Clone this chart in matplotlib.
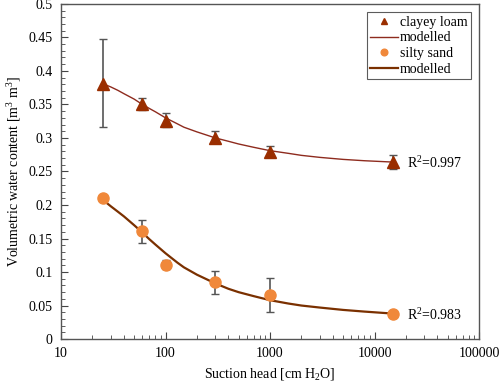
import matplotlib.pyplot as plt
from matplotlib.ticker import MultipleLocator, LogLocator, NullFormatter, FixedLocator, FixedFormatter

plt.rcParams['font.family'] = 'Liberation Serif'
plt.rcParams['mathtext.fontset'] = 'custom'
plt.rcParams['mathtext.rm'] = 'Liberation Serif'
plt.rcParams['mathtext.it'] = 'Liberation Serif:italic'

# measured points
suction = [25, 60, 100, 300, 1000, 15000]
clay_theta = [0.381, 0.350, 0.326, 0.300, 0.279, 0.264]
clay_lo = [0.317, 0.341, 0.316, 0.294, 0.271, 0.254]
clay_hi = [0.448, 0.360, 0.337, 0.310, 0.288, 0.274]
sand_theta = [0.210, 0.161, 0.111, 0.085, 0.065, 0.038]
sand_lo = [0.210, 0.143, 0.104, 0.067, 0.040, 0.038]
sand_hi = [0.210, 0.178, 0.118, 0.102, 0.091, 0.038]

# modelled curves
model_h = [25, 30, 35, 40, 50, 60, 70, 80, 100, 130, 150, 200, 300, 400, 500, 700,
           1000, 1500, 2000, 3000, 5000, 8000, 15000]
clay_model = [0.381, 0.376, 0.371, 0.366, 0.358, 0.350, 0.344, 0.339, 0.330, 0.321, 0.316, 0.309,
              0.300, 0.295, 0.291, 0.286, 0.281, 0.277, 0.274, 0.271, 0.268, 0.266, 0.264]
sand_model = [0.208, 0.198, 0.190, 0.183, 0.170, 0.159, 0.149, 0.141, 0.128, 0.114, 0.107, 0.096,
              0.083, 0.075, 0.070, 0.064, 0.058, 0.053, 0.050, 0.047, 0.0435, 0.041, 0.038]

clay_col = '#9a2e00'
sand_col = '#f0883a'

fig = plt.figure(figsize=(5, 3.84), dpi=100)
ax = fig.add_axes([0.122, 0.117, 0.836, 0.873])

ax.errorbar(suction, clay_theta,
            yerr=[[t - l for t, l in zip(clay_theta, clay_lo)], [h - t for t, h in zip(clay_theta, clay_hi)]],
            fmt='none', ecolor='#555555', elinewidth=1.2, capsize=3, capthick=1, zorder=2)
ax.errorbar(suction, sand_theta,
            yerr=[[t - l for t, l in zip(sand_theta, sand_lo)], [h - t for t, h in zip(sand_theta, sand_hi)]],
            fmt='none', ecolor='#555555', elinewidth=1.2, capsize=3, capthick=1, zorder=2)

ax.plot(suction, clay_theta, linestyle='none', marker='^', markersize=8, color=clay_col, label='clayey loam', zorder=4)
ax.plot(model_h, clay_model, color='#8e2b1e', lw=1.0, label='modelled', zorder=3)
ax.plot(suction, sand_theta, linestyle='none', marker='o', markersize=8, color=sand_col, label='silty sand', zorder=4)
ax.plot(model_h, sand_model, color='#7a3000', lw=1.6, label='modelled', zorder=3)

ax.annotate('R$^2$=0.997', (suction[-1], clay_theta[-1]), xytext=(10, -1), textcoords='offset points',
            va='center', fontsize=10)
ax.annotate('R$^2$=0.983', (suction[-1], sand_theta[-1]), xytext=(10, -1), textcoords='offset points',
            va='center', fontsize=10)

ax.set_xscale('log')
ax.set_xlim(10, 100000)
ax.set_ylim(0, 0.5)
ax.xaxis.set_major_locator(FixedLocator([10, 100, 1000, 10000, 100000]))
ax.xaxis.set_major_formatter(FixedFormatter(['10', '100', '1000', '10000', '100000']))
ax.xaxis.set_minor_locator(LogLocator(base=10, subs=range(2, 10)))
ax.xaxis.set_minor_formatter(NullFormatter())
ax.yaxis.set_minor_locator(MultipleLocator(0.01))
ax.set_yticks([0, 0.05, 0.1, 0.15, 0.2, 0.25, 0.3, 0.35, 0.4, 0.45, 0.5])
ax.set_yticklabels(['0', '0.05', '0.1', '0.15', '0.2', '0.25', '0.3', '0.35', '0.4', '0.45', '0.5'])
ax.tick_params(which='both', direction='in', top=False, right=False, labelsize=10, color='#444444')
ax.tick_params(which='major', length=5, pad=6)
ax.tick_params(which='minor', length=3)
for s in ax.spines.values():
    s.set_color('#555555')
    s.set_linewidth(1.0)

ax.set_xlabel('Suction head [cm H$_2$O]', fontsize=10)
ax.set_ylabel('Volumetric water content [m$^3$ m$^3$]', fontsize=10)

leg = ax.legend(loc='upper right', fontsize=10, frameon=True, fancybox=False, edgecolor='#333333',
                handlelength=2.0, handletextpad=0.1, borderpad=0.25, labelspacing=0.2,
                markerscale=0.6, borderaxespad=0.6)
leg.get_frame().set_linewidth(0.8)

fig.savefig('out.png', dpi=100)
